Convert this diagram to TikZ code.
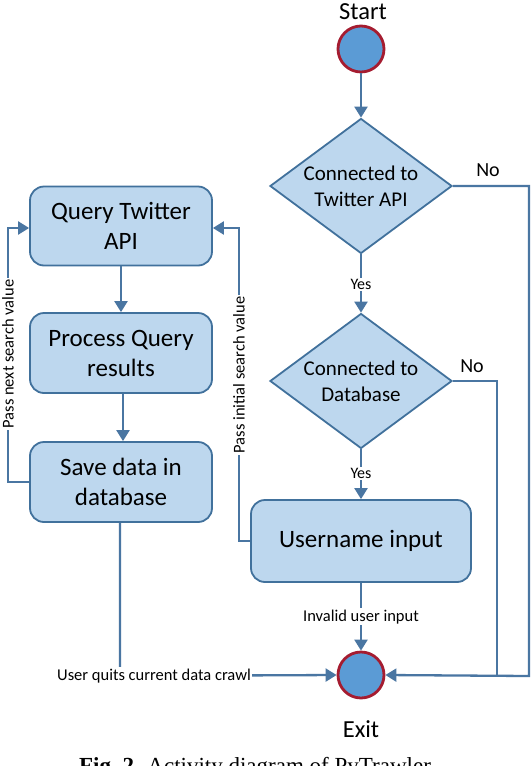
\documentclass[tikz,border=0pt]{standalone}
\usepackage{fontspec}
\setmainfont{Carlito}
\newfontfamily\capfont{Liberation Serif}
\usetikzlibrary{shapes.geometric,arrows.meta}
\definecolor{boxfill}{HTML}{BDD7EE}
\definecolor{boxline}{HTML}{41719C}
\definecolor{flow}{HTML}{4A76A2}
\definecolor{dotfill}{HTML}{5B9BD5}
\definecolor{dotline}{HTML}{A51C30}
\begin{document}
\begin{tikzpicture}[x=1pt,y=-1pt,
  act/.style={draw=boxline,fill=boxfill,line width=1.8pt,rounded corners=14pt,
    minimum width=182pt,minimum height=80pt,align=center,inner sep=0pt,
    font=\fontsize{25}{30}\selectfont},
  dec/.style={diamond,draw=boxline,fill=boxfill,line width=1.8pt,inner sep=0pt,
    shape aspect=1.35,minimum width=182pt,minimum height=135pt,align=center,
    font=\fontsize{21}{26}\selectfont},
  dot/.style={circle,draw=dotline,fill=dotfill,line width=2.8pt,minimum size=46pt,inner sep=0pt},
  flowline/.style={draw=flow,line width=2.3pt},
  arr/.style={flowline,-{Triangle[length=11pt,width=13pt]}},
  lbl/.style={fill=white,inner sep=1.5pt,font=\fontsize{16.5}{19}\selectfont},
  yn/.style={inner sep=1pt,font=\fontsize{20}{24}\selectfont},
  ys/.style={fill=white,inner sep=1.5pt,font=\fontsize{16}{19}\selectfont},
  big/.style={font=\fontsize{24.5}{29}\selectfont}
]
\useasboundingbox (0,0) rectangle (532,766);
\fill[white] (0,0) rectangle (532,766);

% right column
\node[big] (startlbl) at (363,12) {Start};
\node[dot] (start) at (361,49) {};
\node[dec] (d1) at (361,186) {Connected to\\Twitter API};
\node[dec] (d2) at (361,381) {Connected to\\Database};
\node[act,minimum width=220pt,minimum height=82pt] (user) at (361,541) {Username input};
\node[dot] (exit) at (361,675) {};
\node[big] (exitlbl) at (361,729) {Exit};

% left column
\node[act,minimum height=79pt] (q) at (121,226) {Query Twitter\\API};
\node[act] (p) at (121,353) {Process Query\\results};
\node[act] (s) at (121,482) {Save data in\\database};

% coordinates
\coordinate (r1a) at (529,186);
\coordinate (r1b) at (529,676);
\coordinate (r2a) at (497,381);
\coordinate (r2b) at (497,676);
\coordinate (la) at (8,482);
\coordinate (lb) at (8,228);
\coordinate (ma) at (239,541);
\coordinate (mb) at (239,228);
\coordinate (ba) at (120,676);

% connectors
\draw[arr] (start) -- (d1);
\draw[arr] (d1) -- node[ys,pos=0.52] {Yes} (d2);
\draw[arr] (d2) -- node[ys,pos=0.48] {Yes} (user);
\draw[arr] (user) -- node[lbl,fill=white,pos=0.5] {Invalid user input} (exit);
\draw[arr] (d1.east) -- (r1a) -- (r1b) -- (exit.east);
\draw[flowline] (d2.east) -- (r2a) -- (r2b);
\node[yn] (no1) at (488,170) {No};
\node[yn] (no2) at (472,366) {No};

\draw[arr] (q) -- (p);
\draw[arr] (p.south -| 123,0) -- (s.north -| 123,0);
\draw[arr] (s.west) -- (la) -- (lb) -- (q.west |- lb);
\draw[arr] (user.west) -- (ma) -- (mb) -- (q.east |- mb);
\draw[arr] (s.south -| ba) -- (ba) -- (exit.west);

\node[lbl,rotate=90] (nextlbl) at (8,354) {Pass next search value};
\node[lbl,rotate=90] (initlbl) at (239,375) {Pass initial search value};
\node[lbl] (quitlbl) at (154,676) {User quits current data crawl};

\node[anchor=base,font=\capfont\fontsize{23}{27}\selectfont] (cap) at (255,773) {\textbf{Fig.~2.} Activity diagram of PyTrawler};
\end{tikzpicture}
\end{document}
